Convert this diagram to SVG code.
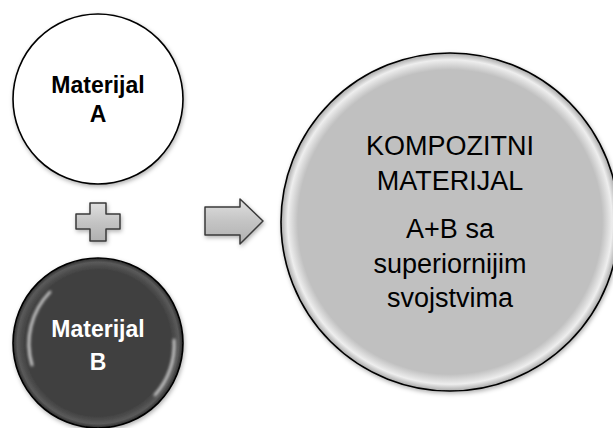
<svg xmlns="http://www.w3.org/2000/svg" width="613" height="428" viewBox="0 0 613 428">
  <defs>
    <style>
      .edge { stroke: #000; stroke-width: 1.6; }
      .lblBold { font-family: "Liberation Sans", Arial, sans-serif; font-weight: bold; font-size: 23px; text-anchor: middle; }
      .lbl { font-family: "Liberation Sans", Arial, sans-serif; font-size: 27px; text-anchor: middle; fill: #000; }
      .shape { fill: url(#shapeGrad); stroke: #3a3a3a; stroke-width: 1.5; stroke-linejoin: round; }
    </style>
    <radialGradient id="bigGrad" cx="0.5" cy="0.5" r="0.5">
      <stop offset="0" stop-color="#c0c0c0"/>
      <stop offset="0.9" stop-color="#c0c0c0"/>
      <stop offset="0.96" stop-color="#eeeeee"/>
      <stop offset="1" stop-color="#a8a8a8"/>
    </radialGradient>
    <radialGradient id="darkGrad" cx="0.5" cy="0.5" r="0.5">
      <stop offset="0" stop-color="#404040"/>
      <stop offset="0.86" stop-color="#404040"/>
      <stop offset="0.95" stop-color="#5a5a5a"/>
      <stop offset="1" stop-color="#2a2a2a"/>
    </radialGradient>
    <linearGradient id="shapeGrad" x1="0" y1="0" x2="0" y2="1">
      <stop offset="0" stop-color="#e0e0e0"/>
      <stop offset="0.5" stop-color="#c4c4c4"/>
      <stop offset="1" stop-color="#b0b0b0"/>
    </linearGradient>
    <filter id="soft" x="-20%" y="-20%" width="140%" height="140%">
      <feGaussianBlur stdDeviation="1.5"/>
    </filter>
    <filter id="shadow" x="-10%" y="-10%" width="130%" height="130%">
      <feDropShadow dx="1" dy="2" stdDeviation="2" flood-color="#000" flood-opacity="0.3"/>
    </filter>
  </defs>

  <rect width="613" height="428" fill="#fff"/>

  <!-- material A -->
  <g id="materialA">
    <circle cx="98" cy="99" r="85" fill="#fff" class="edge" filter="url(#shadow)"/>
    <text class="lblBold" x="98" y="93" fill="#000">Materijal</text>
    <text class="lblBold" x="98" y="122" fill="#000">A</text>
  </g>

  <!-- plus sign -->
  <g id="plus">
    <path class="shape" d="M90,203 H106 V214 H120 V229 H106 V241 H90 V229 H76 V214 H90 Z" filter="url(#shadow)"/>
  </g>

  <!-- material B -->
  <g id="materialB">
    <circle cx="98" cy="343" r="85" fill="url(#darkGrad)" class="edge" filter="url(#shadow)"/>
    <path d="M50,292 A74,74 0 0 0 32,365" fill="none" stroke="#fff" stroke-width="2.5" stroke-linecap="round" opacity="0.85" filter="url(#soft)"/>
    <path d="M174,340 A74,74 0 0 1 155,395" fill="none" stroke="#fff" stroke-width="2.5" stroke-linecap="round" opacity="0.8" filter="url(#soft)"/>
    <text class="lblBold" x="98" y="337" fill="#fff">Materijal</text>
    <text class="lblBold" x="98" y="370" fill="#fff">B</text>
  </g>

  <!-- arrow -->
  <g id="arrow">
    <path class="shape" d="M205,207 H240 V199 L263,221 L240,244 V235 H205 Z" filter="url(#shadow)"/>
  </g>

  <!-- composite material -->
  <g id="composite">
    <circle cx="450" cy="222" r="169" fill="url(#bigGrad)" class="edge" filter="url(#shadow)"/>
    <text class="lbl" x="450" y="155">KOMPOZITNI</text>
    <text class="lbl" x="450" y="190">MATERIJAL</text>
    <text class="lbl" x="450" y="238">A+B sa</text>
    <text class="lbl" x="450" y="273">superiornijim</text>
    <text class="lbl" x="450" y="307">svojstvima</text>
  </g>
</svg>
